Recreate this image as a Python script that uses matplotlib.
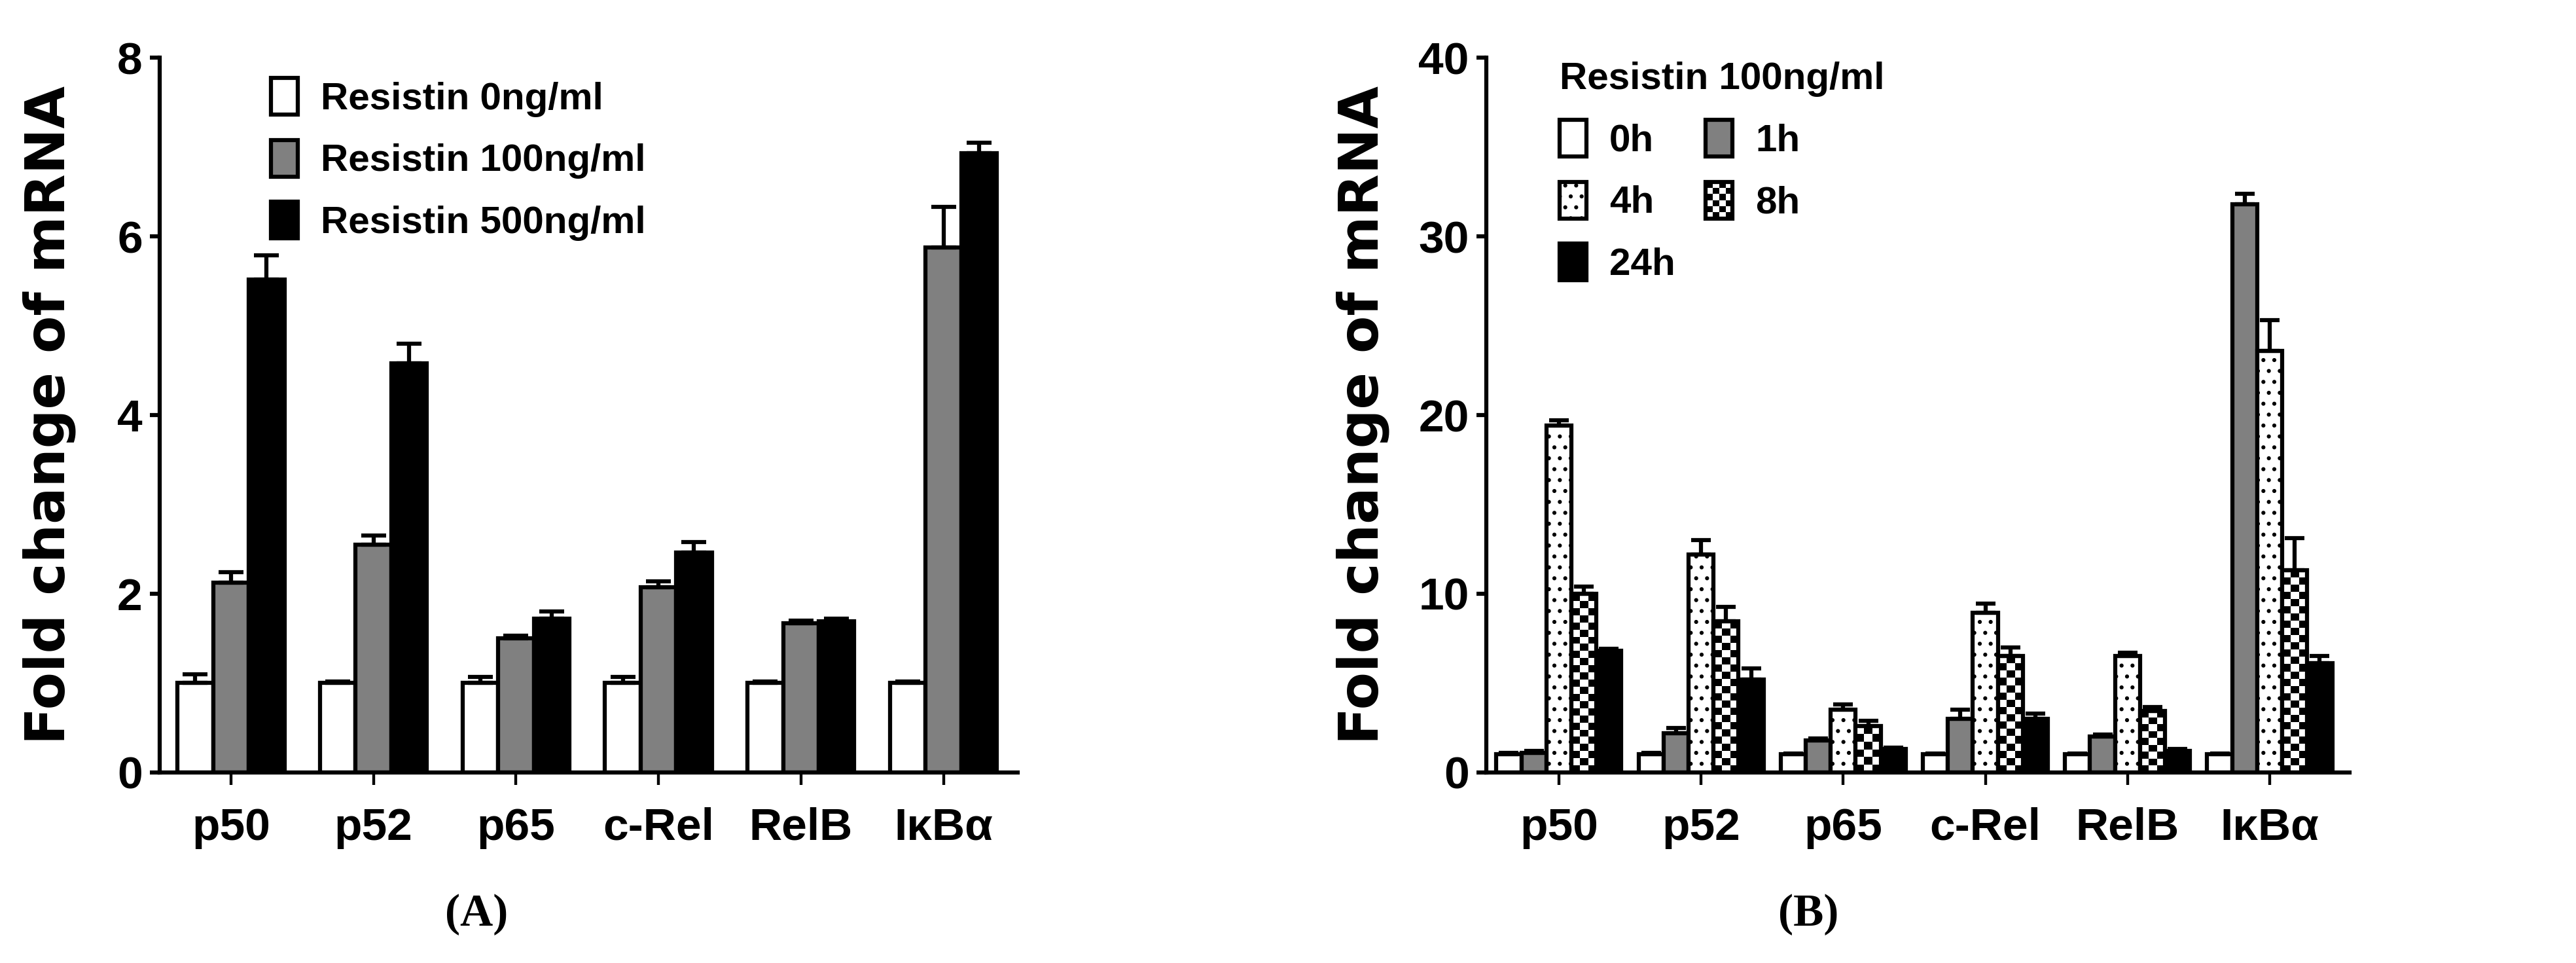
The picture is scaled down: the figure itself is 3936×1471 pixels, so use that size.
import numpy as np
import matplotlib
matplotlib.use("Agg")
import matplotlib.pyplot as plt
from matplotlib.patches import Patch, Rectangle
from matplotlib.legend_handler import HandlerBase

plt.rcParams['font.family'] = ['Liberation Sans Narrow', 'Liberation Sans', 'DejaVu Sans']
plt.rcParams['font.weight'] = 'bold'
plt.rcParams['hatch.linewidth'] = 2.0

genes = ["p50", "p52", "p65", "c-Rel", "RelB", "IκBα"]

# panel A: dose
dose_labels = ["Resistin 0ng/ml", "Resistin 100ng/ml", "Resistin 500ng/ml"]
a_0 = [1.0, 1.0, 1.0, 1.0, 1.0, 1.0]
a_0_err = [0.10, 0.02, 0.07, 0.07, 0.02, 0.02]
a_100 = [2.12, 2.55, 1.50, 2.07, 1.67, 5.88]
a_100_err = [0.12, 0.10, 0.03, 0.07, 0.03, 0.45]
a_500 = [5.52, 4.58, 1.72, 2.46, 1.69, 6.93]
a_500_err = [0.27, 0.22, 0.08, 0.12, 0.03, 0.12]

# panel B: time course at 100ng/ml
time_labels = ["0h", "1h", "4h", "8h", "24h"]
b_0h = [1.0, 1.0, 1.0, 1.0, 1.0, 1.0]
b_0h_err = [0.10, 0.10, 0.05, 0.05, 0.05, 0.05]
b_1h = [1.1, 2.2, 1.8, 3.0, 2.0, 31.8]
b_1h_err = [0.10, 0.30, 0.10, 0.50, 0.10, 0.60]
b_4h = [19.4, 12.2, 3.5, 8.95, 6.5, 23.6]
b_4h_err = [0.30, 0.80, 0.30, 0.50, 0.20, 1.70]
b_8h = [10.0, 8.45, 2.6, 6.5, 3.45, 11.3]
b_8h_err = [0.40, 0.80, 0.30, 0.50, 0.20, 1.80]
b_24h = [6.8, 5.2, 1.3, 3.0, 1.2, 6.1]
b_24h_err = [0.10, 0.60, 0.10, 0.30, 0.10, 0.40]

GREY = "#808080"
LW = 4.5
TICK_FS = 50
LEG_FS = 42


class CheckerHandler(HandlerBase):
    def create_artists(self, legend, orig_handle, xdescent, ydescent,
                       width, height, fontsize, trans):
        x0, y0 = -xdescent, -ydescent
        arts = [Rectangle((x0, y0), width, height, facecolor="white",
                          edgecolor="none", transform=trans)]
        nx, ny = 4, 6
        for i in range(nx):
            for j in range(ny):
                if (i + j) % 2:
                    arts.append(Rectangle((x0 + i * width / nx, y0 + j * height / ny),
                                          width / nx, height / ny, facecolor="black",
                                          edgecolor="none", transform=trans))
        arts.append(Rectangle((x0, y0), width, height, facecolor="none",
                              edgecolor="black", lw=LW, transform=trans))
        return arts


def checker_fill(ax, bars, sq_px=11):
    for b in bars:
        x0, w, h = b.get_x(), b.get_width(), b.get_height()
        p0 = ax.transData.transform((x0, 0))
        p1 = ax.transData.transform((x0 + w, h))
        nx = max(1, int(round((p1[0] - p0[0]) / sq_px)))
        ny = max(1, int(round((p1[1] - p0[1]) / sq_px)))
        yy, xx = np.indices((ny, nx))
        img = (xx + yy) % 2
        ax.imshow(img, cmap="gray", extent=(x0, x0 + w, 0, h), origin="lower",
                  interpolation="nearest", aspect="auto", clip_path=b, zorder=2.1)


def style_axes(ax, xlim, ylim, yticks):
    ax.set_xlim(*xlim)
    ax.set_ylim(*ylim)
    for s in ["top", "right"]:
        ax.spines[s].set_visible(False)
    for s in ["left", "bottom"]:
        ax.spines[s].set_linewidth(LW)
    ax.set_yticks(yticks)
    ax.set_xticks(np.arange(len(genes)))
    ax.set_xticklabels(genes)
    ax.tick_params(axis="y", length=11, width=LW, pad=8, labelsize=TICK_FS)
    ax.tick_params(axis="x", length=14, width=LW * 0.7, pad=24, labelsize=TICK_FS)


fig = plt.figure(figsize=(39.36, 14.71), dpi=100)
axA = fig.add_axes([0.062, 0.198, 0.333, 0.742])
axB = fig.add_axes([0.577, 0.198, 0.335, 0.742])

x = np.arange(len(genes))

# ---- A ----
style_axes(axA, (-0.5, 5.52), (0, 8), [0, 2, 4, 6, 8])
wA = 0.25
seriesA = [(a_0, a_0_err, "white"), (a_100, a_100_err, GREY), (a_500, a_500_err, "black")]
for k, (m, e, c) in enumerate(seriesA):
    xs = x + (k - 1) * wA
    axA.bar(xs, m, width=wA, facecolor=c, edgecolor="black", linewidth=LW, zorder=2)
    axA.errorbar(xs, m, yerr=[np.zeros(len(m)), e], fmt="none", ecolor="black",
                 elinewidth=LW, capsize=14, capthick=LW, zorder=3)
handlesA = [Patch(facecolor=c, edgecolor="black", linewidth=LW) for _, _, c in seriesA]
axA.legend(handlesA, dose_labels, loc="upper left", bbox_to_anchor=(0.13, 0.972),
           frameon=False, fontsize=LEG_FS, handlelength=0.7, handleheight=1.1,
           handletextpad=0.6, labelspacing=0.6, borderpad=0, borderaxespad=0)

# ---- B ----
style_axes(axB, (-0.51, 5.56), (0, 40), [0, 10, 20, 30, 40])
wB = 0.176
seriesB = [(b_0h, b_0h_err, "white", None), (b_1h, b_1h_err, GREY, None),
           (b_4h, b_4h_err, "white", "."), (b_8h, b_8h_err, "white", "checker"),
           (b_24h, b_24h_err, "black", None)]
handlesB = []
for k, (m, e, c, hatch) in enumerate(seriesB):
    xs = x + (k - 2) * wB
    if hatch == ".":
        axB.bar(xs, m, width=wB, facecolor=c, edgecolor="black",
                linewidth=LW, hatch=".", zorder=2)
        handlesB.append(Patch(facecolor=c, edgecolor="black", linewidth=LW, hatch="."))
    elif hatch == "checker":
        bars = axB.bar(xs, m, width=wB, facecolor=c, edgecolor="none", zorder=2)
        checker_fill(axB, bars)
        axB.bar(xs, m, width=wB, fill=False, edgecolor="black", linewidth=LW, zorder=2.2)
        handlesB.append(Patch(facecolor="white", edgecolor="black"))
    else:
        axB.bar(xs, m, width=wB, facecolor=c, edgecolor="black", linewidth=LW, zorder=2)
        handlesB.append(Patch(facecolor=c, edgecolor="black", linewidth=LW))
    axB.errorbar(xs, m, yerr=[np.zeros(len(m)), e], fmt="none", ecolor="black",
                 elinewidth=LW, capsize=11, capthick=LW, zorder=3)
axB.set_xlim(-0.51, 5.56)
axB.set_ylim(0, 40)

order = [0, 2, 4, 1, 3]
legB = axB.legend([handlesB[i] for i in order], [time_labels[i] for i in order],
                  handler_map={handlesB[3]: CheckerHandler()},
                  title="Resistin 100ng/ml", title_fontsize=LEG_FS, ncol=2,
                  loc="upper left", bbox_to_anchor=(0.085, 0.995), frameon=False,
                  fontsize=LEG_FS, handlelength=0.7, handleheight=1.1, handletextpad=0.6,
                  labelspacing=0.6, columnspacing=0.8, borderpad=0, borderaxespad=0)
legB._legend_box.align = "left"
legB.get_title().set_fontweight("bold")

# y labels and panel letters
fig.text(0.019, 0.569, "Fold change of mRNA", rotation=90, ha="center", va="center",
         fontsize=60, fontweight="bold", family="DejaVu Sans")
fig.text(0.529, 0.569, "Fold change of mRNA", rotation=90, ha="center", va="center",
         fontsize=60, fontweight="bold", family="DejaVu Sans")
fig.text(0.185, 0.05, "(A)", ha="center", va="center", fontsize=50,
         fontweight="bold", family="Liberation Serif")
fig.text(0.702, 0.05, "(B)", ha="center", va="center", fontsize=50,
         fontweight="bold", family="Liberation Serif")

fig.savefig("out.png", dpi=100)
